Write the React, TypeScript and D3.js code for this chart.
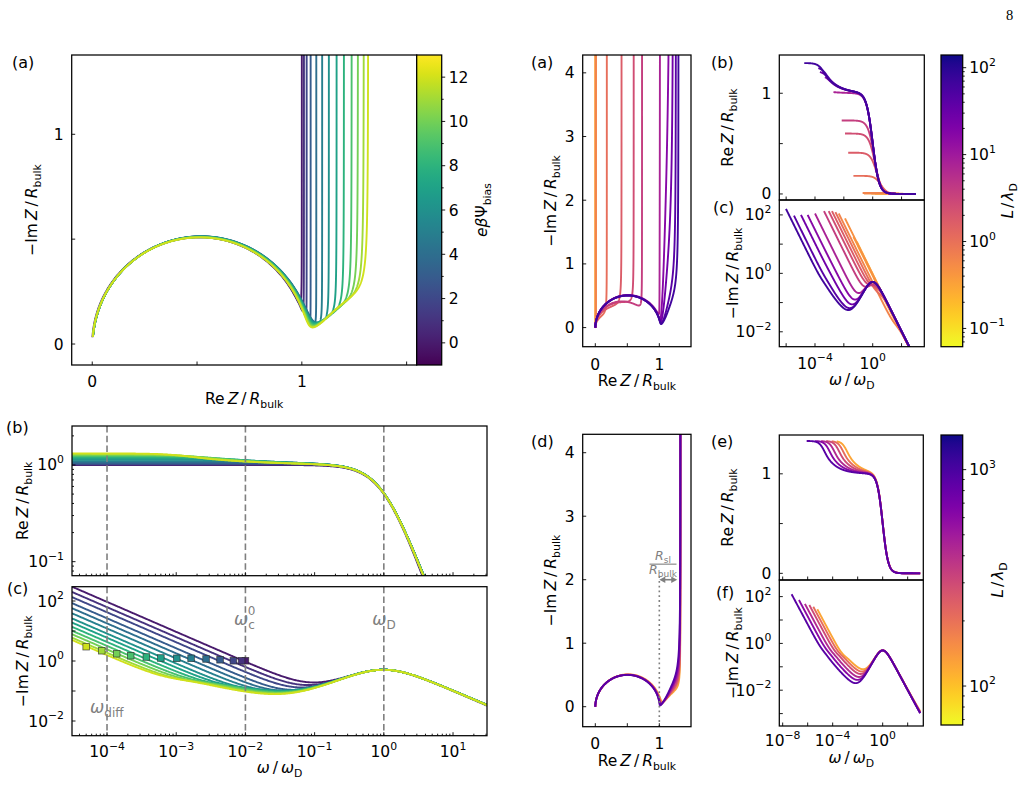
import React from 'react';
import * as d3 from 'd3';

type Cx = [number, number];

// ---------- bias sweep (left column) ----------
const biasLevels = [0, 1, 2, 3, 4, 5, 6, 7, 8, 9, 10, 11, 12];
// low-frequency limit of Re Z / R_bulk (where the capacitive spike rises)
const biasReLimit = [1.0, 1.01, 1.023, 1.042, 1.069, 1.097, 1.129, 1.166, 1.201, 1.238, 1.268, 1.296, 1.317];
// -Im Z / R_bulk at the lowest plotted frequency
const biasImLow = [300, 200, 135, 85, 57.5, 38.9, 26.3, 19.1, 13.8, 10.2, 7.8, 6.0, 5.0];
// crossover frequency markers (one per bias)
const crossoverOmega = [1.0e-2, 8.8e-3, 6.7e-3, 4.3e-3, 2.7e-3, 1.64e-3, 1.02e-3, 6.0e-4, 3.7e-4, 2.2e-4, 1.38e-4, 8.4e-5, 5.0e-5];
const crossoverImZ = [1.02, 1.02, 1.02, 1.1, 1.17, 1.23, 1.23, 1.26, 1.36, 1.5, 1.75, 2.2, 3.0];
const biasOmegaRange = [10 ** -4.506, 10 ** 1.491];
const refOmega = [1e-4, 1e-2, 1]; // omega_diff, omega_c^0, omega_D

// ---------- length sweep, top right ----------
const lengthTop = [65, 41, 26, 16, 7.5, 3.7, 2.5, 1.7, 1.07, 0.63, 0.46, 0.34, 0.22];
const lengthTopReLimit = [1.3, 1.26, 1.22, 1.18, 1.02, 0.73, 0.6, 0.41, 0.18, 0.01, 0.005, 0.003, 0.002];
const lengthTopImStart = [160, 94, 100, 100, 112, 135, 135, 135, 125, 112, 76, 17.8, 15.8];
const lengthTopImStartOmega = [9.8e-7, 3.5e-6, 1.07e-5, 3.1e-5, 1.0e-4, 4.2e-4, 8.9e-4, 1.5e-3, 2.6e-3, 4.4e-3, 1.2e-2, 4.6e-2, 7.9e-2];
const lengthTopReStartOmega = [1.8e-5, 1.7e-4, 2.2e-4, 4.9e-4, 1.9e-3, 7.1e-3, 1.2e-2, 2.0e-2, 4.6e-2, 0.2, 0.25, 0.8, 1.4];
const lengthTopDiffOmega = [6.5e-4, 1.0e-3, 1.26e-3, 1.6e-3, 2.0e-3, 0, 0, 0, 0, 0, 0, 0, 0];

// ---------- length sweep, bottom right ----------
const lengthBottom = [900, 600, 420, 300, 210, 125];
const lengthBottomReLimit = [1.33, 1.33, 1.33, 1.33, 1.33, 1.33];
const lengthBottomImStart = [126, 72, 49, 44, 37, 29];
const lengthBottomImStartOmega = [5.2e-8, 2.0e-7, 6.0e-7, 1.35e-6, 2.8e-6, 5.9e-6];
const lengthBottomReStartOmega = [8.3e-7, 3.9e-6, 1.17e-5, 2.95e-5, 8.3e-5, 2.1e-4];
// -Im Z / R_bulk where each Nyquist curve turns vertical
const lengthBottomKnee = [1.05, 0.9, 0.78, 0.66, 0.56, 0.46];

const omegaMax = 1e3;

// ---------- complex helpers ----------
const cadd = (a: Cx, b: Cx): Cx => [a[0] + b[0], a[1] + b[1]];
const cdiv = (a: Cx, b: Cx): Cx => {
  const d = b[0] * b[0] + b[1] * b[1];
  return [(a[0] * b[0] + a[1] * b[1]) / d, (a[1] * b[0] - a[0] * b[1]) / d];
};
const csqrt = (a: Cx): Cx => {
  const m = Math.hypot(a[0], a[1]);
  return [Math.sqrt((m + a[0]) / 2), (a[1] < 0 ? -1 : 1) * Math.sqrt((m - a[0]) / 2)];
};
const cexp = (a: Cx): Cx => {
  const e = Math.exp(a[0]);
  return [e * Math.cos(a[1]), e * Math.sin(a[1])];
};

// finite-length diffusion element with a blocking end
function warburg(w: number, rw: number, tau: number): Cx {
  const s = csqrt([0, w * tau]);
  if (Math.hypot(s[0], s[1]) < 1e-4) return [rw / 3, -rw / (w * tau)];
  const e = cexp([-2 * s[0], -2 * s[1]]);
  const coth = cdiv([1 + e[0], e[1]], [1 - e[0], -e[1]]);
  const z = cdiv(coth, s);
  return [rw * z[0], rw * z[1]];
}

interface Circuit { r: number; c: number; rw: number; tau: number; k: number }

const diffusive = (rw: number, cTot: number, tau: number): Circuit => {
  const t = Math.max(tau, 1.02 * rw * cTot);
  return { r: 1, c: Infinity, rw, tau: t, k: 1 / (1 / cTot - rw / t) };
};

function circuitFor(reLimit: number, cTot: number, diffOmega: number): Circuit {
  if (reLimit >= 1) {
    const rw = 3 * (reLimit - 1);
    if (rw <= 0) return { r: 1, c: Infinity, rw: 0, tau: 1, k: cTot };
    return diffusive(rw, cTot, diffOmega > 0 ? 15 / diffOmega : 0);
  }
  const c = Math.max(cTot - 1, 0.05);
  return { r: reLimit * ((c + 1) / c) ** 2, c, rw: 0, tau: 1, k: Infinity };
}

// diffusion time chosen so that the capacitive rise starts at the given height
function circuitForKnee(reLimit: number, cTot: number, knee: number): Circuit {
  const rw = 3 * (reLimit - 1);
  const g = Math.max(knee - 0.39 * rw, 0.01);
  return diffusive(rw, cTot, cTot * (3 * g + rw));
}

function impedance(w: number, p: Circuit): Cx {
  const inf = p.c === Infinity;
  let z = cdiv([p.r, inf ? 0 : -1 / (w * p.c)], [1 + (inf ? 0 : 1 / p.c), w * p.r]);
  if (p.rw > 0) z = cadd(z, warburg(w, p.rw, p.tau));
  if (p.k !== Infinity) z = cadd(z, [0, -1 / (w * p.k)]);
  return z;
}

interface Pt { w: number; re: number; im: number }
const sweep = (lo: number, hi: number, n = 500) => d3.range(n).map((i) => lo * (hi / lo) ** (i / (n - 1)));
const spectrum = (p: Circuit, lo: number, hi: number): Pt[] =>
  sweep(lo, hi).map((w) => {
    const z = impedance(w, p);
    return { w, re: z[0], im: -z[1] };
  });

const biasCircuits = biasLevels.map((_, i) => circuitFor(biasReLimit[i], 1 / (biasOmegaRange[0] * biasImLow[i]), 0));
const biasSpectra = biasCircuits.map((p) => spectrum(p, biasOmegaRange[0], biasOmegaRange[1]));

const topCircuits = lengthTop.map((_, i) =>
  circuitFor(lengthTopReLimit[i], 1 / (lengthTopImStartOmega[i] * lengthTopImStart[i]), lengthTopDiffOmega[i]));
const topIm = topCircuits.map((p, i) => spectrum(p, lengthTopImStartOmega[i], omegaMax));
const topRe = topCircuits.map((p, i) => spectrum(p, lengthTopReStartOmega[i], omegaMax));

const botCircuits = lengthBottom.map((_, i) =>
  circuitForKnee(lengthBottomReLimit[i], 1 / (lengthBottomImStartOmega[i] * lengthBottomImStart[i]), lengthBottomKnee[i]));
const botIm = botCircuits.map((p, i) => spectrum(p, lengthBottomImStartOmega[i], omegaMax));
const botRe = botCircuits.map((p, i) => spectrum(p, lengthBottomReStartOmega[i], omegaMax));

// ---------- colours ----------
const biasColor = (b: number) => d3.interpolateViridis((b + 1) / 14);
const topNorm = [-1.21, 2.146];
const botNorm = [1.82, 3.16];
const plasmaLog = (v: number, n: number[]) => d3.interpolatePlasma(1 - (Math.log10(v) - n[0]) / (n[1] - n[0]));

// ---------- layout ----------
interface Box { x0: number; x1: number; y0: number; y1: number }
const bA: Box = { x0: 71.7, x1: 416.7, y0: 55, y1: 365 };
const bB: Box = { x0: 72, x1: 487, y0: 426, y1: 575.7 };
const bC: Box = { x0: 72, x1: 487, y0: 586.7, y1: 735.7 };
const cbA: Box = { x0: 416.7, x1: 441.7, y0: 55, y1: 365 };
const bRa: Box = { x0: 582.7, x1: 691, y0: 55, y1: 346.7 };
const bRb: Box = { x0: 779.3, x1: 924.3, y0: 55, y1: 200 };
const bRc: Box = { x0: 779.3, x1: 924.3, y0: 200, y1: 346.7 };
const cbT: Box = { x0: 941, x1: 962.7, y0: 55, y1: 346.7 };
const bRd: Box = { x0: 582.7, x1: 691, y0: 434.3, y1: 726.7 };
const bRe: Box = { x0: 779.3, x1: 923.3, y0: 435, y1: 580 };
const bRf: Box = { x0: 779.3, x1: 923.3, y0: 580, y1: 726 };
const cbB: Box = { x0: 941, x1: 962.7, y0: 435, y1: 725 };

const xA = d3.scaleLinear().domain([-0.098, 1.548]).range([bA.x0, bA.x1]);
const yA = d3.scaleLinear().domain([-0.1, 1.378]).range([bA.y1, bA.y0]);
const sCbA = d3.scaleLinear().domain([-1, 13]).range([cbA.y1, cbA.y0]);
const xB = d3.scaleLog().domain([10 ** -4.506, 10 ** 1.491]).range([bB.x0, bB.x1]);
const yB = d3.scaleLog().domain([0.0716, 2.53]).range([bB.y1, bB.y0]);
const yC = d3.scaleLog().domain([10 ** -2.49, 10 ** 2.477]).range([bC.y1, bC.y0]);

const xRa = d3.scaleLinear().domain([-0.197, 1.495]).range([bRa.x0, bRa.x1]);
const yRa = d3.scaleLinear().domain([-0.3, 4.28]).range([bRa.y1, bRa.y0]);
const xRb = d3.scaleLog().domain([10 ** -6.474, 10 ** 3.576]).range([bRb.x0, bRb.x1]);
const yRb = d3.scaleLinear().domain([-0.06, 1.38]).range([bRb.y1, bRb.y0]);
const yRc = d3.scaleLog().domain([10 ** -2.51, 10 ** 2.51]).range([bRc.y1, bRc.y0]);
const sCbT = d3.scaleLog().domain([10 ** topNorm[0], 10 ** topNorm[1]]).range([cbT.y1, cbT.y0]);
const yRd = d3.scaleLinear().domain([-0.315, 4.29]).range([bRd.y1, bRd.y0]);
const xRe = d3.scaleLog().domain([10 ** -8.27, 10 ** 3.25]).range([bRe.x0, bRe.x1]);
const yRe = d3.scaleLinear().domain([-0.067, 1.39]).range([bRe.y1, bRe.y0]);
const yRf = d3.scaleLog().domain([10 ** -3.53, 10 ** 2.71]).range([bRf.y1, bRf.y0]);
const sCbB = d3.scaleLog().domain([10 ** botNorm[0], 10 ** botNorm[1]]).range([cbB.y1, cbB.y0]);

const FONT = "'DejaVu Sans', 'Liberation Sans', sans-serif";
const TFS = 15.5;
const LFS = 15.5;
const GRAY = '#7f7f7f';

// ---------- helpers ----------
type Scale = (v: number) => number;
const clampPx = (v: number) => Math.max(-3000, Math.min(4000, v));
function curvePath(pts: Pt[], xs: Scale, ys: Scale, fx: (d: Pt) => number, fy: (d: Pt) => number) {
  const gen = d3
    .line<Pt>()
    .defined((d) => Number.isFinite(xs(fx(d))) && Number.isFinite(ys(fy(d))))
    .x((d) => clampPx(xs(fx(d))))
    .y((d) => clampPx(ys(fy(d))));
  return gen(pts) ?? '';
}
const minorLog = (lo: number, hi: number) => {
  const out: number[] = [];
  for (let e = Math.floor(Math.log10(lo)); e <= Math.ceil(Math.log10(hi)); e++)
    for (let m = 2; m <= 9; m++) {
      const v = m * 10 ** e;
      if (v > lo && v < hi) out.push(v);
    }
  return out;
};
const decades = (a: number, b: number, step = 1) => d3.range(a, b + 1, step).map((e) => 10 ** e);

function Frame(props: { box: Box; xs?: Scale; ys?: Scale; xMaj?: number[]; xMin?: number[]; yMaj?: number[]; yMin?: number[] }) {
  const { box, xs, ys, xMaj = [], xMin = [], yMaj = [], yMin = [] } = props;
  return (
    <g stroke="#000" strokeWidth={0.9}>
      {xs && xMaj.map((v, i) => <line key={'xM' + i} x1={xs(v)} x2={xs(v)} y1={box.y1} y2={box.y1 - 3.5} />)}
      {xs && xMin.map((v, i) => <line key={'xm' + i} x1={xs(v)} x2={xs(v)} y1={box.y1} y2={box.y1 - 2} />)}
      {ys && yMaj.map((v, i) => <line key={'yM' + i} x1={box.x0} x2={box.x0 + 3.5} y1={ys(v)} y2={ys(v)} />)}
      {ys && yMin.map((v, i) => <line key={'ym' + i} x1={box.x0} x2={box.x0 + 2} y1={ys(v)} y2={ys(v)} />)}
      <rect x={box.x0} y={box.y0} width={box.x1 - box.x0} height={box.y1 - box.y0} fill="none" strokeWidth={1.25} />
    </g>
  );
}

function Pow10(props: { x: number; y: number; exp: number; anchor: string }) {
  const e = props.exp < 0 ? '\u2212' + -props.exp : String(props.exp);
  return (
    <text x={props.x} y={props.y} textAnchor={props.anchor} fontSize={TFS}>
      10<tspan dy={-7.5} fontSize={TFS * 0.7}>{e}</tspan>
    </text>
  );
}
const Num = (props: { x: number; y: number; anchor: string; t: string }) => (
  <text x={props.x} y={props.y} textAnchor={props.anchor} fontSize={TFS}>{props.t}</text>
);

const ReZ = (props: { x: number; y: number; rot?: boolean }) => (
  <text transform={`translate(${props.x},${props.y})${props.rot ? ' rotate(-90)' : ''}`} textAnchor="middle" fontSize={LFS}>
    Re<tspan dx={3} fontStyle="italic">Z</tspan><tspan dx={3}>/</tspan><tspan dx={3} fontStyle="italic">R</tspan>
    <tspan dy={4} fontSize={LFS * 0.7}>bulk</tspan>
  </text>
);
const ImZ = (props: { x: number; y: number }) => (
  <text transform={`translate(${props.x},${props.y}) rotate(-90)`} textAnchor="middle" fontSize={LFS}>
    {'\u2212Im'}<tspan dx={3} fontStyle="italic">Z</tspan><tspan dx={3}>/</tspan><tspan dx={3} fontStyle="italic">R</tspan>
    <tspan dy={4} fontSize={LFS * 0.7}>bulk</tspan>
  </text>
);
const OmegaAxis = (props: { x: number; y: number }) => (
  <text x={props.x} y={props.y} textAnchor="middle" fontSize={LFS}>
    <tspan fontStyle="italic">ω</tspan><tspan dx={3}>/</tspan><tspan dx={3} fontStyle="italic">ω</tspan>
    <tspan dy={4} fontSize={LFS * 0.7}>D</tspan>
  </text>
);
const LengthLabel = (props: { x: number; y: number }) => (
  <text transform={`translate(${props.x},${props.y}) rotate(-90)`} textAnchor="middle" fontSize={LFS}>
    <tspan fontStyle="italic">L</tspan><tspan dx={2}>/</tspan><tspan dx={2} fontStyle="italic">λ</tspan>
    <tspan dy={4} fontSize={LFS * 0.7}>D</tspan>
  </text>
);
const PanelTag = (props: { x: number; y: number; t: string }) => (
  <text x={props.x} y={props.y} fontSize={16}>{props.t}</text>
);

function Gradient(props: { id: string; interp: (t: number) => string }) {
  return (
    <linearGradient id={props.id} x1="0" y1="1" x2="0" y2="0">
      {d3.range(33).map((i) => (
        <stop key={i} offset={i / 32} stopColor={props.interp(i / 32)} />
      ))}
    </linearGradient>
  );
}

function Colorbar(props: { box: Box; fill: string; s: Scale; maj: number[]; min: number[] }) {
  const { box, s } = props;
  return (
    <g>
      <rect x={box.x0} y={box.y0} width={box.x1 - box.x0} height={box.y1 - box.y0} fill={`url(#${props.fill})`} />
      <g stroke="#000" strokeWidth={0.9}>
        {props.maj.map((v, i) => <line key={'M' + i} x1={box.x1} x2={box.x1 + 3.5} y1={s(v)} y2={s(v)} />)}
        {props.min.map((v, i) => <line key={'m' + i} x1={box.x1} x2={box.x1 + 2} y1={s(v)} y2={s(v)} />)}
        <rect x={box.x0} y={box.y0} width={box.x1 - box.x0} height={box.y1 - box.y0} fill="none" strokeWidth={1.25} />
      </g>
    </g>
  );
}

const clipRect = (id: string, b: Box) => (
  <clipPath id={id} key={id}>
    <rect x={b.x0} y={b.y0} width={b.x1 - b.x0} height={b.y1 - b.y0} />
  </clipPath>
);

const LW = 1.9;
const reOf = (d: Pt) => d.re;
const imOf = (d: Pt) => d.im;
const wOf = (d: Pt) => d.w;

export default function App() {
  const topOrder = d3.range(lengthTop.length).reverse();
  const botOrder = d3.range(lengthBottom.length).reverse();

  return (
    <svg width={1024} height={787} viewBox="0 0 1024 787" fontFamily={FONT}
      style={{ position: 'absolute', left: 0, top: 0, background: '#fff' }}>
      <defs>
        {clipRect('cA', bA)}
        {clipRect('cB', bB)}
        {clipRect('cC', bC)}
        {clipRect('cRa', bRa)}
        {clipRect('cRb', bRb)}
        {clipRect('cRc', bRc)}
        {clipRect('cRd', bRd)}
        {clipRect('cRe', bRe)}
        {clipRect('cRf', bRf)}
        <Gradient id="gVir" interp={d3.interpolateViridis} />
        <Gradient id="gPla" interp={(t) => d3.interpolatePlasma(1 - t)} />
      </defs>

      <text x={1006} y={20} fontSize={14.5} fontFamily="'Liberation Serif', serif">8</text>

      {/* ===== left (a): Nyquist, bias sweep ===== */}
      <g clipPath="url(#cA)" fill="none" strokeWidth={LW}>
        {biasSpectra.map((pts, i) => (
          <path key={i} d={curvePath(pts, xA, yA, reOf, imOf)} stroke={biasColor(biasLevels[i])} />
        ))}
      </g>
      <Frame box={bA} xs={xA} ys={yA} xMaj={[0, 0.5, 1, 1.5]} yMaj={[0, 0.5, 1]} />
      <Num x={xA(0)} y={386.7} anchor="middle" t="0" />
      <Num x={xA(1)} y={386.7} anchor="middle" t="1" />
      <Num x={bA.x0 - 8} y={yA(0) + 5.5} anchor="end" t="0" />
      <Num x={bA.x0 - 8} y={yA(1) + 5.5} anchor="end" t="1" />
      <ReZ x={(bA.x0 + bA.x1) / 2} y={403.5} />
      <ImZ x={37} y={(bA.y0 + bA.y1) / 2} />
      <PanelTag x={12} y={68} t="(a)" />
      <Colorbar box={cbA} fill="gVir" s={sCbA} maj={[0, 2, 4, 6, 8, 10, 12]} min={[1, 3, 5, 7, 9, 11]} />
      {[0, 2, 4, 6, 8, 10, 12].map((v) => (
        <Num key={v} x={cbA.x1 + 7} y={sCbA(v) + 5.5} anchor="start" t={String(v)} />
      ))}
      <text transform={`translate(487,${(cbA.y0 + cbA.y1) / 2}) rotate(-90)`} textAnchor="middle" fontSize={LFS}>
        <tspan fontStyle="italic">eβ</tspan>Ψ<tspan dy={4} fontSize={LFS * 0.7}>bias</tspan>
      </text>

      {/* ===== left (b): Re Z vs frequency ===== */}
      <g clipPath="url(#cB)" fill="none" strokeWidth={LW}>
        {biasSpectra.map((pts, i) => (
          <path key={i} d={curvePath(pts, xB, yB, wOf, reOf)} stroke={biasColor(biasLevels[i])} />
        ))}
      </g>
      <g stroke={GRAY} strokeWidth={1.6} strokeDasharray="6.5,3.3">
        {refOmega.map((w) => <line key={w} x1={xB(w)} x2={xB(w)} y1={bB.y0} y2={bB.y1} />)}
      </g>
      <Frame box={bB} xs={xB} ys={yB} xMaj={decades(-4, 1)} xMin={minorLog(10 ** -4.506, 10 ** 1.491)}
        yMaj={[0.1, 1]} yMin={minorLog(0.0716, 2.53)} />
      <Pow10 x={bB.x0 - 8} y={yB(1) + 5.5} exp={0} anchor="end" />
      <Pow10 x={bB.x0 - 8} y={yB(0.1) + 5.5} exp={-1} anchor="end" />
      <ReZ x={28} y={(bB.y0 + bB.y1) / 2} rot />
      <PanelTag x={6} y={433} t="(b)" />

      {/* ===== left (c): -Im Z vs frequency ===== */}
      <g clipPath="url(#cC)" fill="none" strokeWidth={LW}>
        {biasSpectra.map((pts, i) => (
          <path key={i} d={curvePath(pts, xB, yC, wOf, imOf)} stroke={biasColor(biasLevels[i])} />
        ))}
      </g>
      <g stroke={GRAY} strokeWidth={1.6} strokeDasharray="6.5,3.3">
        {refOmega.map((w) => <line key={w} x1={xB(w)} x2={xB(w)} y1={bC.y0} y2={bC.y1} />)}
      </g>
      <g>
        {biasLevels.map((b, i) => (
          <rect key={b} x={xB(crossoverOmega[i]) - 3.3} y={yC(crossoverImZ[i]) - 3.3} width={6.6} height={6.6}
            fill={biasColor(b)} stroke="#2a2a2a" strokeOpacity={0.75} strokeWidth={0.8} />
        ))}
      </g>
      <g fill={GRAY} fontSize={17}>
        <text x={xB(1e-4) - 17} y={713}>
          <tspan fontStyle="italic">ω</tspan><tspan dy={4} fontSize={12}>diff</tspan>
        </text>
        <text x={xB(1e-2) - 11.5} y={625}>
          <tspan fontStyle="italic">ω</tspan><tspan dy={4} fontSize={12}>c</tspan>
          <tspan dx={-7} dy={-14} fontSize={12}>0</tspan>
        </text>
        <text x={xB(1) - 11.5} y={625}>
          <tspan fontStyle="italic">ω</tspan><tspan dy={4} fontSize={12}>D</tspan>
        </text>
      </g>
      <Frame box={bC} xs={xB} ys={yC} xMaj={decades(-4, 1)} xMin={minorLog(10 ** -4.506, 10 ** 1.491)}
        yMaj={decades(-2, 2)} />
      {[-4, -3, -2, -1, 0, 1].map((e) => (
        <Pow10 key={e} x={xB(10 ** e)} y={757} exp={e} anchor="middle" />
      ))}
      {[-2, 0, 2].map((e) => (
        <Pow10 key={e} x={bC.x0 - 8} y={yC(10 ** e) + 5.5} exp={e} anchor="end" />
      ))}
      <ImZ x={28} y={(bC.y0 + bC.y1) / 2} />
      <OmegaAxis x={(bC.x0 + bC.x1) / 2} y={773} />
      <PanelTag x={7} y={594} t="(c)" />

      {/* ===== right (a): Nyquist, length sweep ===== */}
      <g clipPath="url(#cRa)" fill="none" strokeWidth={LW}>
        {topOrder.map((i) => (
          <path key={i} d={curvePath(topIm[i], xRa, yRa, reOf, imOf)} stroke={plasmaLog(lengthTop[i], topNorm)} />
        ))}
      </g>
      <Frame box={bRa} xs={xRa} ys={yRa} xMaj={[0, 0.5, 1]} yMaj={[0, 1, 2, 3, 4]} />
      <Num x={xRa(0)} y={369.5} anchor="middle" t="0" />
      <Num x={xRa(1)} y={369.5} anchor="middle" t="1" />
      {[0, 1, 2, 3, 4].map((v) => (
        <Num key={v} x={bRa.x0 - 8} y={yRa(v) + 5.5} anchor="end" t={String(v)} />
      ))}
      <ReZ x={(bRa.x0 + bRa.x1) / 2} y={386} />
      <ImZ x={556} y={(bRa.y0 + bRa.y1) / 2} />
      <PanelTag x={531} y={68} t="(a)" />

      {/* ===== right (b) ===== */}
      <g clipPath="url(#cRb)" fill="none" strokeWidth={LW}>
        {topOrder.map((i) => (
          <path key={i} d={curvePath(topRe[i], xRb, yRb, wOf, reOf)} stroke={plasmaLog(lengthTop[i], topNorm)} />
        ))}
      </g>
      <Frame box={bRb} xs={xRb} ys={yRb} xMaj={decades(-6, 2, 2)} yMaj={[0, 0.5, 1]} />
      <Num x={bRb.x0 - 8} y={yRb(0) + 5.5} anchor="end" t="0" />
      <Num x={bRb.x0 - 8} y={yRb(1) + 5.5} anchor="end" t="1" />
      <ReZ x={733} y={(bRb.y0 + bRb.y1) / 2} rot />
      <PanelTag x={711} y={68} t="(b)" />

      {/* ===== right (c) ===== */}
      <g clipPath="url(#cRc)" fill="none" strokeWidth={LW}>
        {topOrder.map((i) => (
          <path key={i} d={curvePath(topIm[i], xRb, yRc, wOf, imOf)} stroke={plasmaLog(lengthTop[i], topNorm)} />
        ))}
      </g>
      <Frame box={bRc} xs={xRb} ys={yRc} xMaj={decades(-6, 2, 2)} yMaj={decades(-2, 2)} />
      {[-2, 0, 2].map((e) => (
        <Pow10 key={e} x={bRc.x0 - 8} y={yRc(10 ** e) + 5.5} exp={e} anchor="end" />
      ))}
      {[-4, 0].map((e) => (
        <Pow10 key={e} x={xRb(10 ** e)} y={368.5} exp={e} anchor="middle" />
      ))}
      <ImZ x={738} y={(bRc.y0 + bRc.y1) / 2} />
      <OmegaAxis x={(bRc.x0 + bRc.x1) / 2} y={385} />
      <PanelTag x={713} y={213} t="(c)" />

      <Colorbar box={cbT} fill="gPla" s={sCbT} maj={decades(-1, 2)} min={minorLog(10 ** topNorm[0], 10 ** topNorm[1])} />
      {[-1, 0, 1, 2].map((e) => (
        <Pow10 key={e} x={cbT.x1 + 6.5} y={sCbT(10 ** e) + 5.5} exp={e} anchor="start" />
      ))}
      <LengthLabel x={1013} y={(cbT.y0 + cbT.y1) / 2} />

      {/* ===== right (d): Nyquist, long systems ===== */}
      <g clipPath="url(#cRd)" fill="none" strokeWidth={LW}>
        {botOrder.map((i) => (
          <path key={i} d={curvePath(botIm[i], xRa, yRd, reOf, imOf)} stroke={plasmaLog(lengthBottom[i], botNorm)} />
        ))}
      </g>
      <g stroke={GRAY} strokeWidth={1.6}>
        <line x1={xRa(1)} x2={xRa(1)} y1={bRd.y1} y2={yRd(2.05)} strokeDasharray="1.8,3" />
        <line x1={xRa(1) + 5} x2={xRa(1.28) - 5} y1={yRd(2)} y2={yRd(2)} />
      </g>
      <g fill={GRAY}>
        <polygon points={`${xRa(1)},${yRd(2)} ${xRa(1) + 6},${yRd(2) - 3.2} ${xRa(1) + 6},${yRd(2) + 3.2}`} />
        <polygon points={`${xRa(1.28)},${yRd(2)} ${xRa(1.28) - 6},${yRd(2) - 3.2} ${xRa(1.28) - 6},${yRd(2) + 3.2}`} />
        <text x={663} y={559.5} textAnchor="middle" fontSize={12.5}>
          <tspan fontStyle="italic">R</tspan><tspan dy={3} fontSize={9}>sl</tspan>
        </text>
        <rect x={649.5} y={563.6} width={27} height={1.1} />
        <text x={663} y={574} textAnchor="middle" fontSize={12.5}>
          <tspan fontStyle="italic">R</tspan><tspan dy={3} fontSize={9}>bulk</tspan>
        </text>
      </g>
      <Frame box={bRd} xs={xRa} ys={yRd} xMaj={[0, 0.5, 1]} yMaj={[0, 1, 2, 3, 4]} />
      <Num x={xRa(0)} y={748.5} anchor="middle" t="0" />
      <Num x={xRa(1)} y={748.5} anchor="middle" t="1" />
      {[0, 1, 2, 3, 4].map((v) => (
        <Num key={v} x={bRd.x0 - 8} y={yRd(v) + 5.5} anchor="end" t={String(v)} />
      ))}
      <ReZ x={(bRd.x0 + bRd.x1) / 2} y={765.5} />
      <ImZ x={556} y={(bRd.y0 + bRd.y1) / 2} />
      <PanelTag x={531} y={447} t="(d)" />

      {/* ===== right (e) ===== */}
      <g clipPath="url(#cRe)" fill="none" strokeWidth={LW}>
        {botOrder.map((i) => (
          <path key={i} d={curvePath(botRe[i], xRe, yRe, wOf, reOf)} stroke={plasmaLog(lengthBottom[i], botNorm)} />
        ))}
      </g>
      <Frame box={bRe} xs={xRe} ys={yRe} xMaj={decades(-8, 2, 2)} yMaj={[0, 0.5, 1]} />
      <Num x={bRe.x0 - 8} y={yRe(0) + 5.5} anchor="end" t="0" />
      <Num x={bRe.x0 - 8} y={yRe(1) + 5.5} anchor="end" t="1" />
      <ReZ x={733} y={(bRe.y0 + bRe.y1) / 2} rot />
      <PanelTag x={711} y={447} t="(e)" />

      {/* ===== right (f) ===== */}
      <g clipPath="url(#cRf)" fill="none" strokeWidth={LW}>
        {botOrder.map((i) => (
          <path key={i} d={curvePath(botIm[i], xRe, yRf, wOf, imOf)} stroke={plasmaLog(lengthBottom[i], botNorm)} />
        ))}
      </g>
      <Frame box={bRf} xs={xRe} ys={yRf} xMaj={decades(-8, 2, 2)} yMaj={decades(-3, 2)} />
      {[-2, 0, 2].map((e) => (
        <Pow10 key={e} x={bRf.x0 - 8} y={yRf(10 ** e) + 5.5} exp={e} anchor="end" />
      ))}
      {[-8, -4, 0].map((e) => (
        <Pow10 key={e} x={xRe(10 ** e)} y={746} exp={e} anchor="middle" />
      ))}
      <ImZ x={738} y={(bRf.y0 + bRf.y1) / 2} />
      <OmegaAxis x={(bRf.x0 + bRf.x1) / 2} y={763} />
      <PanelTag x={716} y={598} t="(f)" />

      <Colorbar box={cbB} fill="gPla" s={sCbB} maj={decades(2, 3)} min={minorLog(10 ** botNorm[0], 10 ** botNorm[1])} />
      {[2, 3].map((e) => (
        <Pow10 key={e} x={cbB.x1 + 6.5} y={sCbB(10 ** e) + 5.5} exp={e} anchor="start" />
      ))}
      <LengthLabel x={1003} y={(cbB.y0 + cbB.y1) / 2} />
    </svg>
  );
}
